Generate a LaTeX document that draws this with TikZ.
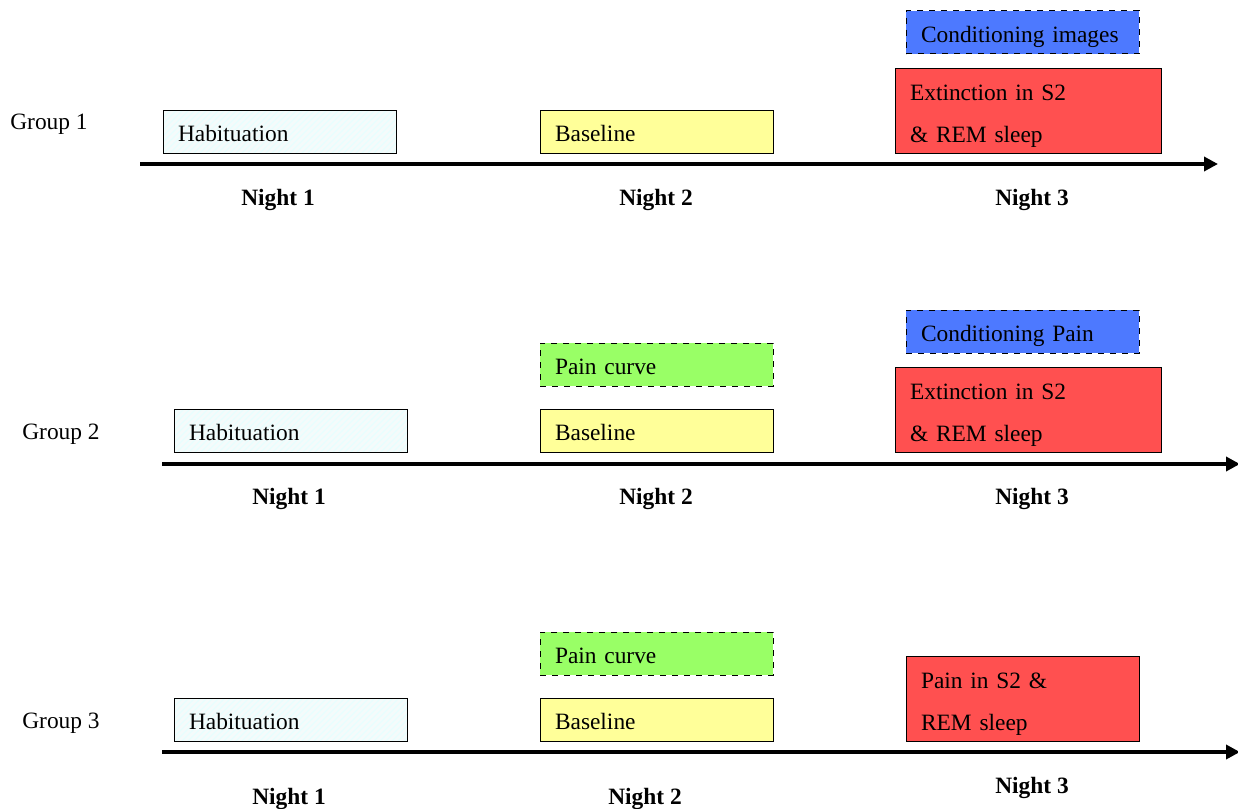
\documentclass[tikz,border=0pt]{standalone}
\usepackage{fontspec}
\setmainfont{Liberation Serif}
\usepackage{xcolor}
\usetikzlibrary{arrows.meta, patterns, positioning}

\definecolor{habcol}{RGB}{244,251,251}
\definecolor{basecol}{RGB}{255,255,153}
\definecolor{paincol}{RGB}{153,255,102}
\definecolor{condcol}{RGB}{77,121,255}
\definecolor{extcol}{RGB}{255,80,80}

\begin{document}
\begin{tikzpicture}[
    x=0.5pt, y=-0.5pt,
    every node/.style={font=\fontsize{11.7}{14}\selectfont},
    phase/.style={rectangle, draw, line width=0.5pt, minimum width=116.5pt, minimum height=21.5pt, inner xsep=7.5pt, text width=101.5pt, align=left, text height=10pt, text depth=0pt},
    habit/.style={phase, pattern=north east lines, pattern color=cyan!10, preaction={fill=habcol}},
    baseline/.style={phase, fill=basecol},
    paincurve/.style={phase, dashed, fill=paincol},
    cond/.style={phase, dashed, fill=condcol},
    sleep/.style={phase, fill=extcol, minimum width=133pt, text width=118pt, minimum height=42.5pt, text height=0pt, text depth=10.5pt},
    night/.style={font=\fontsize{11.7}{14}\selectfont\bfseries},
    timeline/.style={line width=2pt, -{Triangle[length=7pt, width=7pt]}}
  ]
  \useasboundingbox (0,0) rectangle (1238,809);

  % Group 1
  \node (g1) at (49,124) {Group 1};
  \node (hab1) [habit] at (279.5,131.5) {Habituation};
  \node (base1) [baseline] at (656.5,131.5) {Baseline};
  \node (cond1) [cond] at (1022.5,32) {Conditioning images};
  \node (ext1) [sleep] at (1028,110.5) {Extinction in S2\\[7pt]\& REM sleep};
  \coordinate (s1) at (140,164);
  \coordinate (e1) at (1218,164);
  \draw [timeline] (s1) -- (e1);
  \node (n11) [night] at (278,200) {Night 1};
  \node (n12) [night] at (656,200) {Night 2};
  \node (n13) [night] at (1032,200) {Night 3};

  % Group 2
  \node (g2) at (61,434) {Group 2};
  \node (hab2) [habit] at (290.5,430.5) {Habituation};
  \node (pain2) [paincurve] at (656.5,364.5) {Pain curve};
  \node (base2) [baseline] at (656.5,430.5) {Baseline};
  \node (cond2) [cond] at (1022.5,331.5) {Conditioning Pain};
  \node (ext2) [sleep] at (1028,410) {Extinction in S2\\[7pt]\& REM sleep};
  \coordinate (s2) at (162,464);
  \coordinate (e2) at (1240,464);
  \draw [timeline] (s2) -- (e2);
  \node (n21) [night] at (289,499) {Night 1};
  \node (n22) [night] at (656,499) {Night 2};
  \node (n23) [night] at (1032,499) {Night 3};

  % Group 3
  \node (g3) at (61,723) {Group 3};
  \node (hab3) [habit] at (290.5,719.5) {Habituation};
  \node (pain3) [paincurve] at (656.5,653.5) {Pain curve};
  \node (base3) [baseline] at (656.5,719.5) {Baseline};
  \node (ext3) [sleep, minimum width=116.5pt, text width=101.5pt] at (1022.5,698.5) {Pain in S2 \&\\[7pt]REM sleep};
  \coordinate (s3) at (162,752);
  \coordinate (e3) at (1240,752);
  \draw [timeline] (s3) -- (e3);
  \node (n31) [night] at (289,799) {Night 1};
  \node (n32) [night] at (645,799) {Night 2};
  \node (n33) [night] at (1032,788) {Night 3};
\end{tikzpicture}
\end{document}
